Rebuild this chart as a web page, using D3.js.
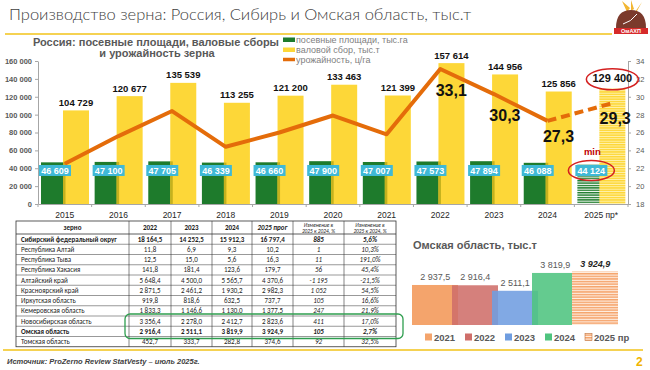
<!DOCTYPE html>
<html>
<head>
<meta charset="utf-8">
<script src="https://cdn.jsdelivr.net/npm/d3@7"></script>
<style>
  body { margin: 0; background: #fff; }
  svg { display: block; font-family: Arial, "Liberation Sans", sans-serif; }
</style>
</head>
<body>
<script>
// --- data ---
var years = ['2015','2016','2017','2018','2019','2020','2021','2022','2023','2024','2025 пр*'];
var area = [46609, 47100, 47705, 46339, 46660, 47900, 47007, 47573, 47894, 46088, 44124];
var harvest = [104729, 120677, 135539, 113255, 121200, 133463, 121399, 157614, 144956, 125856, 129400];
var yieldRu = [22.5, 25.6, 28.4, 24.4, 26.0, 27.9, 25.8, 33.1, 30.3, 27.3, 29.3];
var leftTicks = [0, 20000, 40000, 60000, 80000, 100000, 120000, 140000, 160000];
var rightTicks = [18, 20, 22, 24, 26, 28, 30, 32, 34];

var regions = ['Сибирский федеральный округ', 'Республика Алтай', 'Республика Тыва', 'Республика Хакасия',
  'Алтайский край', 'Красноярский край', 'Иркутская область', 'Кемеровская область',
  'Новосибирская область', 'Омская область', 'Томская область'];
var r2022 = [18164.5, 11.8, 12.5, 141.8, 5648.4, 2871.5, 919.8, 1833.3, 3356.4, 2916.4, 452.7];
var r2023 = [14252.5, 6.9, 15.0, 181.4, 4500.0, 2461.2, 818.6, 1146.6, 2278.0, 2511.1, 333.7];
var r2024 = [15912.3, 9.3, 5.6, 123.6, 5565.7, 1930.2, 632.5, 1130.0, 2412.7, 3819.9, 282.8];
var r2025 = [16797.4, 10.2, 16.3, 179.7, 4370.6, 2982.3, 737.7, 1377.5, 2823.6, 3924.9, 374.6];
var rChange = [885, 1, 11, 56, -1195, 1052, 105, 247, 411, 105, 92];
var rPct = [5.6, 10.3, 191.0, 45.4, -21.5, 54.5, 16.6, 21.9, 17.0, 2.7, 32.5];

var omskYears = ['2021', '2022', '2023', '2024', '2025 пр'];
var omskVals = [2937.5, 2916.4, 2511.1, 3819.9, 3924.9];

// --- setup ---
var W = 650, H = 370;
var svg = d3.select('body').append('svg').attr('width', W).attr('height', H);
var ru = d3.formatLocale({decimal: ',', thousands: ' ', grouping: [3], currency: ['', ''], minus: '-'});
var fInt = ru.format(',d'), f1 = ru.format(',.1f');

var defs = svg.append('defs');
function stripes(id, c1, c2, h, h1) {
  var p = defs.append('pattern').attr('id', id).attr('patternUnits', 'userSpaceOnUse')
    .attr('width', 8).attr('height', h);
  p.append('rect').attr('width', 8).attr('height', h).attr('fill', c2);
  p.append('rect').attr('width', 8).attr('height', h1).attr('fill', c1);
}
stripes('hGreen', '#1e7b2c', '#ffffff', 2.4, 1.4);
stripes('hYellow', '#fdd738', '#fff3b5', 2.4, 1.5);
stripes('hOrange', '#f5a46c', '#fff1e6', 2.6, 1.5);

// --- header ---
svg.append('text').attr('x', 9).attr('y', 20).attr('font-size', 16.5).attr('fill', '#404040')
  .attr('font-family', 'Lato, "Noto Sans", sans-serif').attr('font-weight', 300)
  .text('Производство зерна: Россия, Сибирь и Омская область, тыс.т');
svg.append('line').attr('x1', 5).attr('x2', 612).attr('y1', 34).attr('y2', 34)
  .attr('stroke', '#f2c318').attr('stroke-width', 1.5);

// logo
var logo = svg.append('g').attr('transform', 'translate(631,0)');
logo.append('path').attr('d', 'M-4,12 L-9,1 L-1,8 Z M0,11 L0,0 L3,9 Z M4,12 L11,2 L6,11 Z').attr('fill', '#f2b632');
logo.append('path').attr('d', 'M-15,28 Q-15,10 0,10 Q15,10 15,28 Z').attr('fill', '#7b3a2c');
logo.append('path').attr('d', 'M-8,24 Q0,22 6,14').attr('fill', 'none').attr('stroke', '#fff').attr('stroke-width', 1);
logo.append('rect').attr('x', -17).attr('y', 28).attr('width', 34).attr('height', 6).attr('fill', '#d62a2a');
logo.append('text').attr('x', 0).attr('y', 33).attr('text-anchor', 'middle').attr('font-size', 5.5)
  .attr('font-weight', 'bold').attr('fill', '#fff').text('ОмАХП');

// --- Russia chart ---
var x = d3.scaleBand().domain(years).range([38, 628]);
var bw = x.bandwidth();
var yL = d3.scaleLinear().domain([0, 160000]).range([204, 61]);
var yR = d3.scaleLinear().domain([18, 34]).range([204, 61]);
var last = years.length - 1;

var ch = svg.append('g');
ch.append('text').attr('x', 156).attr('y', 46).attr('text-anchor', 'middle').attr('font-size', 11)
  .attr('font-weight', 'bold').attr('fill', '#595959').text('Россия: посевные площади, валовые сборы');
ch.append('text').attr('x', 157).attr('y', 57).attr('text-anchor', 'middle').attr('font-size', 11)
  .attr('font-weight', 'bold').attr('fill', '#595959').text('и урожайность зерна');

// legend
var lg = ch.append('g').attr('transform', 'translate(283,0)');
lg.append('rect').attr('x', 0).attr('y', 37.5).attr('width', 12).attr('height', 4.5).attr('fill', '#1e7b2c');
lg.append('rect').attr('x', 0).attr('y', 47.5).attr('width', 12).attr('height', 4.5).attr('fill', '#fdd738');
lg.append('line').attr('x1', 0).attr('x2', 12).attr('y1', 59.5).attr('y2', 59.5).attr('stroke', '#e46c0a').attr('stroke-width', 3.5);
lg.selectAll('text.lg').data(['посевные площади, тыс.га', 'валовой сбор, тыс.т', 'урожайность, ц/га'])
  .enter().append('text').attr('x', 13).attr('y', function(d, i) { return 43 + i * 10; })
  .attr('font-size', 9).attr('fill', '#7f7f7f').text(function(d) { return d; });

// green bars
ch.selectAll('rect.area').data(area).enter().append('rect')
  .attr('x', function(d, i) { return x(years[i]) + 3; })
  .attr('width', 24)
  .attr('y', function(d) { return yL(d); })
  .attr('height', function(d) { return yL(0) - yL(d); })
  .attr('fill', function(d, i) { return i == last ? 'url(#hGreen)' : '#1e7b2c'; });

// yellow bars
ch.selectAll('rect.harv').data(harvest).enter().append('rect')
  .attr('x', function(d, i) { return x(years[i]) + 25; })
  .attr('width', 26)
  .attr('y', function(d) { return yL(d); })
  .attr('height', function(d) { return yL(0) - yL(d); })
  .attr('fill', function(d, i) { return i == last ? 'url(#hYellow)' : '#fdd738'; });

// olive overlap strip
ch.selectAll('rect.ov').data(area).enter().append('rect')
  .attr('x', function(d, i) { return x(years[i]) + 25; })
  .attr('width', 2.5)
  .attr('y', function(d) { return yL(d); })
  .attr('height', function(d) { return yL(0) - yL(d); })
  .attr('fill', function(d, i) { return i == last ? 'none' : '#c4b11e'; });

// axes
var axL = ch.append('g').attr('transform', 'translate(38,0)')
  .call(d3.axisLeft(yL).tickValues(leftTicks).tickSize(3).tickSizeOuter(0).tickFormat(fInt));
var axR = ch.append('g').attr('transform', 'translate(628,0)')
  .call(d3.axisRight(yR).tickValues(rightTicks).tickSize(3).tickSizeOuter(0));
var axB = ch.append('g').attr('transform', 'translate(0,204)')
  .call(d3.axisBottom(x).tickSize(0).tickSizeOuter(0));
[axL, axR, axB].forEach(function(a) {
  a.selectAll('path, line').attr('stroke', '#a6a6a6');
  a.selectAll('text').attr('font-family', 'Arial, "Liberation Sans", sans-serif');
});
axL.selectAll('text').attr('font-size', 7.5).attr('font-weight', 'bold').attr('fill', '#595959');
axR.selectAll('text').attr('font-size', 7.5).attr('fill', '#595959').attr('dx', 2);
axB.selectAll('text').attr('font-size', 8.5).attr('fill', '#262626').attr('dy', 11);
axB.selectAll('line.sep').data(years.concat(['end'])).enter().append('line').attr('class', 'sep')
  .attr('x1', function(d, i) { return i < years.length ? x(d) : x.range()[1]; })
  .attr('x2', function(d, i) { return i < years.length ? x(d) : x.range()[1]; })
  .attr('y1', 0).attr('y2', 3).attr('stroke', '#a6a6a6');

// yield line
function px(i) { return x(years[i]) + bw / 2 + (i == last ? 12 : 0); }
var line = d3.line().x(function(d) { return px(d); }).y(function(d) { return yR(yieldRu[d]); });
ch.append('path').datum(d3.range(0, last)).attr('d', line).attr('fill', 'none')
  .attr('stroke', '#e46c0a').attr('stroke-width', 4).attr('stroke-linejoin', 'round');
ch.append('path').datum([last - 1, last]).attr('d', line).attr('fill', 'none')
  .attr('stroke', '#e46c0a').attr('stroke-width', 4).attr('stroke-dasharray', '9,5');

// yield labels for the last years
ch.selectAll('text.yl').data(d3.range(7, years.length)).enter().append('text')
  .attr('x', function(i) { return i == last ? px(i) + 2 : px(i) + 11; })
  .attr('y', function(i) { return yR(yieldRu[i]) + (i < 9 ? 27 : 21); })
  .attr('text-anchor', 'middle').attr('font-size', 16).attr('font-weight', 'bold').attr('fill', '#111')
  .text(function(i) { return f1(yieldRu[i]); });

// harvest labels
ch.selectAll('text.hv').data(harvest).enter().append('text')
  .attr('x', function(d, i) { return x(years[i]) + 38; })
  .attr('y', function(d, i) { return yL(d) - (i == last ? 6 : 4.5); })
  .attr('text-anchor', 'middle').attr('font-size', function(d, i) { return i == last ? 11 : 9.5; })
  .attr('font-weight', 'bold').attr('fill', '#111')
  .text(function(d) { return fInt(d); });

// area labels in cyan boxes
var al = ch.selectAll('g.al').data(area).enter().append('g')
  .attr('transform', function(d, i) { return 'translate(' + (x(years[i]) + 17) + ',' + yL(37500) + ')'; });
al.append('rect').attr('x', -16).attr('y', -5.5).attr('width', 32).attr('height', 11).attr('fill', '#3fb9d6');
al.append('text').attr('y', 3.5).attr('text-anchor', 'middle').attr('font-size', 9).attr('font-weight', 'bold')
  .attr('fill', '#fff').text(function(d) { return fInt(d); });

// red marks for forecast
ch.append('ellipse').attr('cx', x(years[last]) + 38).attr('cy', yL(harvest[last]) - 9)
  .attr('rx', 26).attr('ry', 10.5).attr('fill', 'none').attr('stroke', '#d42020').attr('stroke-width', 1.5);
ch.append('ellipse').attr('cx', x(years[last]) + 17).attr('cy', yL(37500))
  .attr('rx', 23).attr('ry', 10).attr('fill', 'none').attr('stroke', '#d42020').attr('stroke-width', 1.5);
ch.append('text').attr('x', x(years[last]) + 18).attr('y', yL(37500) - 15).attr('text-anchor', 'middle')
  .attr('font-size', 9.5).attr('font-weight', 'bold').attr('fill', '#c00000').text('min');

// --- table ---
var colEdges = [16, 129, 171, 212, 252, 293, 344, 396];
var tTop = 221, hH = 13, rH = 10.25;
var tb = svg.append('g').attr('font-family', 'Carlito, "Liberation Sans", Arial, sans-serif');
var tBottom = tTop + hH + rH * regions.length;
tb.append('rect').attr('x', colEdges[0]).attr('y', tTop).attr('width', colEdges[7] - colEdges[0])
  .attr('height', tBottom - tTop).attr('fill', '#fff').attr('stroke', '#333').attr('stroke-width', 0.8);
colEdges.slice(1, 7).forEach(function(cx) {
  tb.append('line').attr('x1', cx).attr('x2', cx).attr('y1', tTop).attr('y2', tBottom).attr('stroke', '#333').attr('stroke-width', 0.6);
});
d3.range(regions.length).forEach(function(i) {
  var yy = tTop + hH + rH * i;
  tb.append('line').attr('x1', colEdges[0]).attr('x2', colEdges[7]).attr('y1', yy).attr('y2', yy)
    .attr('stroke', '#333').attr('stroke-width', i == 0 ? 0.8 : 0.5);
});
function cc(j) { return (colEdges[j] + colEdges[j + 1]) / 2; }
var heads = ['зерно', '2022', '2023', '2024', '2025 прог'];
heads.forEach(function(h, j) {
  tb.append('text').attr('x', cc(j)).attr('y', tTop + 9).attr('text-anchor', 'middle')
    .attr('font-size', 7).attr('font-weight', 'bold').attr('font-style', j == 4 ? 'italic' : 'normal')
    .attr('fill', '#222').text(h);
});
[5, 6].forEach(function(j) {
  tb.append('text').attr('x', cc(j)).attr('y', tTop + 5.6).attr('text-anchor', 'middle').attr('font-size', 5.4)
    .attr('font-style', 'italic').attr('fill', '#222').text('Изменение в');
  tb.append('text').attr('x', cc(j)).attr('y', tTop + 11.6).attr('text-anchor', 'middle').attr('font-size', 5.4)
    .attr('font-style', 'italic').attr('fill', '#222').text('2025 к 2024, %');
});
regions.forEach(function(name, i) {
  var yy = tTop + hH + rH * i + 7.6;
  var bold = (i == 0 || i == 9) ? 'bold' : 'normal';
  var cells = [f1(r2022[i]), f1(r2023[i]), f1(r2024[i]), f1(r2025[i]), fInt(rChange[i]), f1(rPct[i]) + '%'];
  tb.append('text').attr('x', colEdges[0] + 5).attr('y', yy).attr('font-size', 7).attr('font-weight', bold)
    .attr('fill', '#222').text(name);
  cells.forEach(function(c, k) {
    tb.append('text').attr('x', cc(k + 1)).attr('y', yy).attr('text-anchor', 'middle').attr('font-size', 7)
      .attr('font-weight', bold).attr('font-style', k >= 4 ? 'italic' : 'normal').attr('fill', '#222').text(c);
  });
});
tb.append('rect').attr('x', 125).attr('y', tTop + hH + rH * 8 - 2).attr('width', 278).attr('height', rH * 2 + 4)
  .attr('rx', 5).attr('fill', 'none').attr('stroke', '#2f9e4f').attr('stroke-width', 1.3);

// --- Omsk chart ---
var om = svg.append('g');
om.append('text').attr('x', 413).attr('y', 249).attr('font-size', 11).attr('font-weight', 'bold')
  .attr('fill', '#595959').text('Омская область, тыс.т');
var xo = d3.scaleBand().domain(omskYears).range([412, 612]);
var yo = d3.scaleLinear().domain([0, 4000]).range([325, 270.5]);
var oColors = ['#f4a46c', '#cf6e6a', '#6f9de0', '#4fc47f', 'url(#hOrange)'];
om.selectAll('rect.ob').data(omskVals).enter().append('rect')
  .attr('x', function(d, i) { return xo(omskYears[i]); })
  .attr('width', xo.bandwidth() * 1.15)
  .attr('y', function(d) { return yo(d); })
  .attr('height', function(d) { return yo(0) - yo(d); })
  .attr('fill', function(d, i) { return oColors[i]; })
  .attr('fill-opacity', function(d, i) { return i == 0 || i == 4 ? 1 : 0.88; });
om.selectAll('text.ov').data(omskVals).enter().append('text')
  .attr('x', function(d, i) { return xo(omskYears[i]) + xo.bandwidth() * 0.58; })
  .attr('y', function(d) { return yo(d) - 5; })
  .attr('text-anchor', 'middle').attr('font-size', 9)
  .attr('font-weight', function(d, i) { return i == 4 ? 'bold' : 'normal'; })
  .attr('font-style', function(d, i) { return i == 4 ? 'italic' : 'normal'; })
  .attr('fill', function(d, i) { return i == 4 ? '#262626' : '#595959'; })
  .text(function(d) { return f1(d); });
var ol = om.selectAll('g.ol').data(omskYears).enter().append('g')
  .attr('transform', function(d, i) { return 'translate(' + (xo(d) + 13) + ',337)'; });
ol.append('rect').attr('x', 0).attr('y', -3.5).attr('width', 7).attr('height', 7)
  .attr('fill', function(d, i) { return oColors[i]; })
  .attr('stroke', function(d, i) { return i == 4 ? '#c0703a' : 'none'; }).attr('stroke-width', 0.6);
ol.append('text').attr('x', 9).attr('y', 3.5).attr('font-size', 9.5).attr('font-weight', 'bold')
  .attr('fill', '#595959').text(function(d) { return d; });

// --- footer ---
svg.append('line').attr('x1', 3).attr('x2', 643).attr('y1', 350).attr('y2', 350)
  .attr('stroke', '#f2c318').attr('stroke-width', 1.5);
svg.append('text').attr('x', 7).attr('y', 364).attr('font-size', 7.5).attr('font-style', 'italic')
  .attr('font-weight', 'bold').attr('fill', '#404040').text('Источник: ProZerno Review StatVesty – июль 2025г.');
svg.append('text').attr('x', 636).attr('y', 366).attr('font-size', 12).attr('font-weight', 'bold')
  .attr('fill', '#f0b400').text('2');
</script>
</body>
</html>
